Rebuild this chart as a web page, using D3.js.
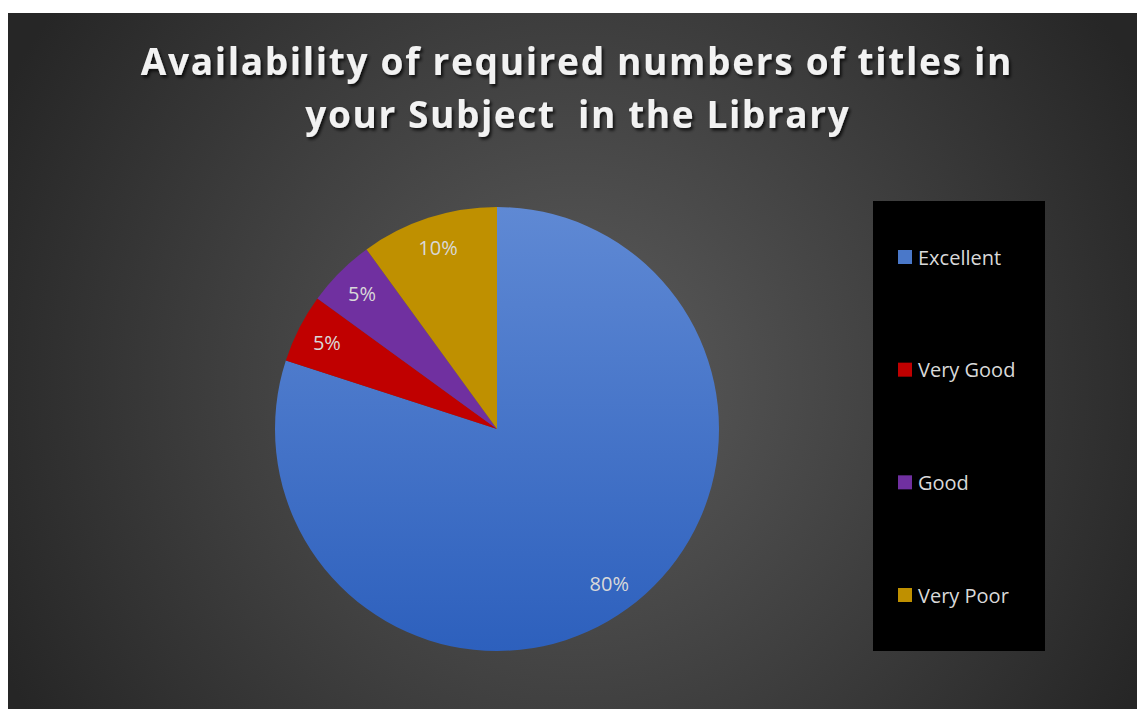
<!DOCTYPE html>
<html>
<head>
<meta charset="utf-8">
<script src="https://cdn.jsdelivr.net/npm/d3@7"></script>
<style>
  html, body { margin: 0; padding: 0; background: #ffffff; }
  svg { display: block; }
</style>
</head>
<body>
<div id="chart"></div>
<script>
// Survey answers and their shares
const categories = ["Excellent", "Very Good", "Good", "Very Poor"];
const shares = [80, 5, 5, 10];
const sliceColors = ["#4472c4", "#c00000", "#7030a0", "#bf9000"];
const titleLines = ["Availability of required numbers of titles in", "your Subject  in the Library"];

const W = 1137, H = 709;
const frame = { x: 8, y: 13, w: W - 8, h: H - 13 };

const svg = d3.select("#chart").append("svg")
  .attr("width", W).attr("height", H);

const defs = svg.append("defs");

// Dark panel with a soft light spot in the middle
const bg = defs.append("radialGradient").attr("id", "panelGrad")
  .attr("gradientUnits", "userSpaceOnUse")
  .attr("cx", 575).attr("cy", 380).attr("r", 640);
bg.append("stop").attr("offset", 0).attr("stop-color", "#5c5c5c");
bg.append("stop").attr("offset", 1).attr("stop-color", "#262626");

const shadow = defs.append("filter").attr("id", "titleShadow")
  .attr("x", "-5%").attr("y", "-30%").attr("width", "110%").attr("height", "160%");
shadow.append("feDropShadow").attr("dx", 2).attr("dy", 2.5).attr("stdDeviation", 1.6)
  .attr("flood-color", "#000").attr("flood-opacity", 0.75);

svg.append("rect")
  .attr("x", frame.x).attr("y", frame.y).attr("width", frame.w).attr("height", frame.h)
  .attr("fill", "url(#panelGrad)");

// Title
const titleTargets = [{ cx: 576, y: 75, width: 872 }, { cx: 577, y: 128, width: 545 }];
const title = svg.append("g").attr("filter", "url(#titleShadow)");
titleLines.forEach((line, i) => {
  const t = titleTargets[i];
  const el = title.append("text")
    .attr("x", t.cx).attr("y", t.y)
    .attr("text-anchor", "middle")
    .attr("font-family", "'Open Sans', sans-serif")
    .attr("font-weight", 700)
    .attr("font-size", 37)
    .attr("fill", "#f2f2f2")
    .style("white-space", "pre")
    .text(line);
  // spread letters so the line fills its measured span
  const n = line.length;
  const natural = el.node().getComputedTextLength();
  const ls = (t.width - natural) / n;
  el.attr("letter-spacing", ls.toFixed(2));
  el.attr("x", t.cx + ls / 2);
});

// Pie
const cx = 497, cy = 429, R = 222;
const data = categories.map((c, i) => ({ name: c, value: shares[i], color: sliceColors[i] }));
const pie = d3.pie().value(d => d.value).sort(null);
const arc = d3.arc().innerRadius(0).outerRadius(R);
const labelArc = d3.arc().innerRadius(R * 0.86).outerRadius(R * 0.86);

// gradient for the big slice, in the pie group's local coordinates
const blueLocal = defs.append("linearGradient").attr("id", "blueGradLocal")
  .attr("gradientUnits", "userSpaceOnUse")
  .attr("x1", 0).attr("y1", -R).attr("x2", 0).attr("y2", R);
blueLocal.append("stop").attr("offset", 0).attr("stop-color", "#5f89d4");
blueLocal.append("stop").attr("offset", 1).attr("stop-color", "#2d60bd");

const g = svg.append("g").attr("transform", `translate(${cx},${cy})`);
const arcs = pie(data);

g.selectAll("path.slice").data(arcs).join("path")
  .attr("class", "slice")
  .attr("d", arc)
  .attr("fill", (d, i) => i === 0 ? "url(#blueGradLocal)" : d.data.color);

g.selectAll("text.lbl").data(arcs).join("text")
  .attr("class", "lbl")
  .attr("transform", d => `translate(${labelArc.centroid(d)})`)
  .attr("text-anchor", "middle")
  .attr("dominant-baseline", "central")
  .attr("font-family", "'Open Sans', sans-serif")
  .attr("font-size", 20)
  .attr("fill", "#d9d9d9")
  .text(d => d.data.value + "%");

// Legend
const legend = { x: 873, y: 201, w: 172, h: 450 };
svg.append("rect")
  .attr("x", legend.x).attr("y", legend.y).attr("width", legend.w).attr("height", legend.h)
  .attr("fill", "#000000");

const ly = d3.scalePoint().domain(categories).range([257, 595]);
const items = svg.selectAll("g.item").data(data).join("g")
  .attr("class", "item")
  .attr("transform", d => `translate(898,${ly(d.name)})`);
items.append("rect")
  .attr("x", 0).attr("y", -7).attr("width", 14).attr("height", 14)
  .attr("fill", (d, i) => i === 0 ? "#4a78c9" : d.color);
items.append("text")
  .attr("x", 20).attr("y", 0)
  .attr("dominant-baseline", "central")
  .attr("font-family", "'Open Sans', sans-serif")
  .attr("font-size", 20)
  .attr("fill", "#d9d9d9")
  .text(d => d.name);
</script>
</body>
</html>
